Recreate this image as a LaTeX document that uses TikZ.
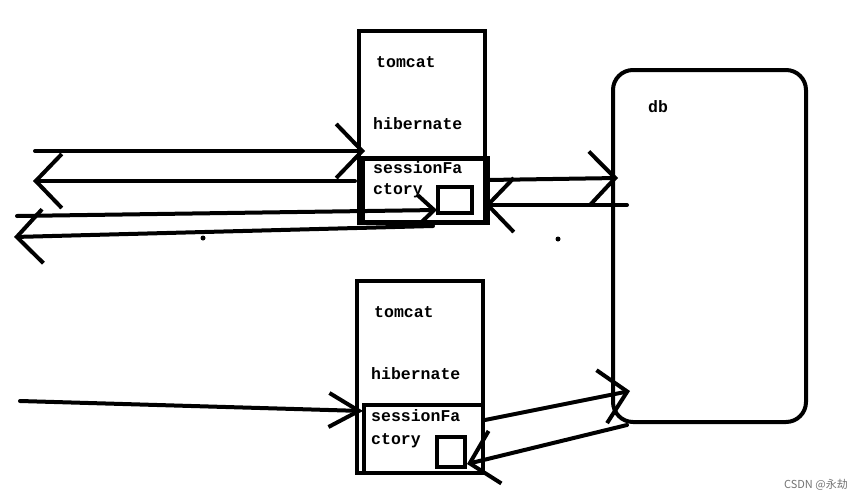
\documentclass[tikz,border=0pt]{standalone}
\usepackage{fontspec}
\newfontfamily\monob{Liberation Mono}
\newfontfamily\cjk{Noto Sans CJK SC}
\usepackage{tikz}
\usetikzlibrary{arrows.meta}
\begin{document}
\begin{tikzpicture}[x=1pt,y=-1pt,line cap=round,
                    >={Straight Barb[length=26pt,width=54pt]}]
  \tikzstyle{box}=[rectangle,draw=black,line width=4pt,anchor=north west,
                   inner sep=0pt,outer sep=0pt]
  \tikzstyle{txt}=[anchor=west,inner sep=0pt,font=\monob\bfseries\fontsize{16.5}{18}\selectfont]
  \tikzstyle{wire}=[->,line width=4pt]
  \useasboundingbox (0,0) rectangle (865,501);

  % upper server
  \node[box,minimum width=126pt,minimum height=192pt] (tcA) at (359,31) {};
  \node[box,line width=5pt,minimum width=125pt,minimum height=64pt] (sfA) at (362,158) {};
  \node[box,minimum width=34pt,minimum height=26pt] (sqA) at (438,187) {};
  \node[txt] (tomA) at (376,62) {tomcat};
  \node[txt] (hibA) at (373,124) {hibernate};
  \node[txt] (sfa1) at (373,168) {sessionFa};
  \node[txt] (sfa2) at (373,191) {ctory};

  % lower server
  \node[box,minimum width=126pt,minimum height=192pt] (tcB) at (357,281) {};
  \node[box,minimum width=119pt,minimum height=68pt] (sfB) at (364,405) {};
  \node[box,minimum width=28pt,minimum height=30pt] (sqB) at (437,437) {};
  \node[txt] (tomB) at (374,312) {tomcat};
  \node[txt] (hibB) at (371,374) {hibernate};
  \node[txt] (sfb1) at (371,416) {sessionFa};
  \node[txt] (sfb2) at (371,441) {ctory};

  % database
  \node[box,rounded corners=20pt,minimum width=193pt,minimum height=352pt] (db) at (613,70) {};
  \node[txt] (dbl) at (648,107) {db};

  % free ends
  \coordinate (a1) at (35,151);   \coordinate (a2) at (365,151);
  \coordinate (b1) at (355,181);  \coordinate (b2) at (33,181);
  \coordinate (c1) at (17,216);   \coordinate (c2) at (437,210);
  \coordinate (d1) at (433,226);  \coordinate (d2) at (14,237);
  \coordinate (e1) at (487,180);  \coordinate (e2) at (618,178);
  \coordinate (f1) at (627,205);  \coordinate (f2) at (485,205);
  \coordinate (g1) at (20,401);   \coordinate (g2) at (363,411);
  \coordinate (h1) at (485,420);  \coordinate (h2) at (630,391);
  \coordinate (k1) at (627,425);  \coordinate (k2) at (467,464);

  \draw[wire] (a1) -- (a2);
  \draw[wire] (b1) -- (b2);
  \draw[wire,>={Straight Barb[length=16pt,width=30pt]}] (c1) -- (c2);
  \draw[wire] (d1) -- (d2);
  \draw[wire] (e1) -- (e2);
  \draw[wire] (f1) -- (f2);
  \draw[wire,>={Straight Barb[length=30pt,width=34pt]}] (g1) -- (g2);
  \draw[wire] (h1) -- (h2);
  \draw[wire] (k1) -- (k2);

  \fill (203,238) circle (2.5pt);
  \fill (558,239) circle (2.5pt);

  \node[anchor=east,inner sep=0pt,text=black!55,font=\cjk\fontsize{11}{13}\selectfont] (mark) at (848,485) {CSDN @永劫};
\end{tikzpicture}
\end{document}
